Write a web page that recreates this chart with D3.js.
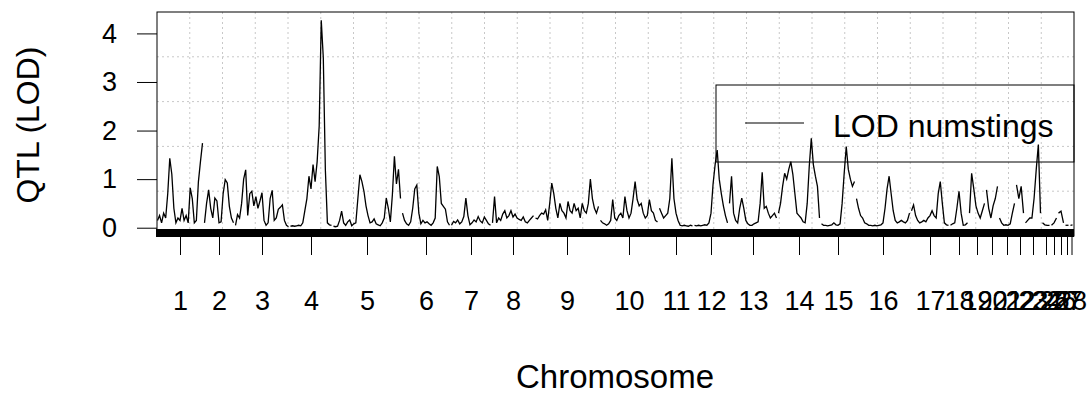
<!DOCTYPE html>
<html><head><meta charset="utf-8">
<script src="https://cdn.jsdelivr.net/npm/d3@7"></script>
<style>
body{margin:0;background:#fff}
svg{display:block}
text{font-family:Arial,"Liberation Sans",sans-serif;fill:#000}
</style>
</head><body>
<svg id="chart" width="1092" height="395"></svg>
<script>
// ---------------- data ----------------
const chromosomes = ["1","2","3","4","5","6","7","8","9","10","11","12","13","14","15","16","17","18","19","20","21","22","23","24","25","26","27","28"];
// chromosome lengths (cM)
const chrLengths = [135,87,159,123,201,141,117,123,189,171,99,99,141,123,99,159,111,51,45,33,45,21,45,21,15,15,9,6];
const chrGap = 6;
// LOD values on an even grid along each chromosome
const lodByChr = [
  [.15,.25,.1,.3,.2,.7,1.43,1.1,.4,.1,.2,.15,.4,.15,.25,.1,.82,.6,.1,.15,.95,1.36,1.74],
  [.1,.5,.78,.4,.2,.61,.55,.1,.12,.7,.99,.92,.44,.2,.1],
  [.05,.27,.2,.5,1.0,1.19,.25,.7,.75,.45,.64,.4,.55,.72,.15,.05,.1,.6,.77,.15,.2,.38,.42,.47,.15,.05,.02],
  [.03,.04,.03,.04,.05,.04,.1,.35,.6,1.06,.8,1.3,.95,1.36,2.1,4.27,3.5,1.2,.1,.06,.05],
  [.03,.02,.03,.15,.34,.1,.05,.12,.16,.04,.08,.1,.6,1.09,.95,.75,.45,.25,.1,.12,.18,.08,.06,.04,.1,.2,.61,.4,.12,.68,1.47,.9,1.2,.6],
  [.3,.15,.08,.05,.12,.4,.8,.88,.3,.08,.15,.1,.12,.08,.05,.1,.2,1.26,1.05,.5,.44,.38,.12,.05],
  [.05,.13,.1,.16,.08,.12,.23,.61,.25,.06,.1,.16,.12,.23,.14,.1,.22,.15,.08,.05],
  [.1,.64,.1,.2,.15,.28,.35,.2,.25,.35,.22,.28,.2,.17,.15,.22,.12,.1,.15,.2,.25],
  [.2,.18,.25,.3,.28,.37,.15,.5,.92,.7,.4,.2,.5,.35,.3,.2,.54,.35,.3,.5,.35,.4,.2,.5,.35,.3,.5,1.0,.6,.4,.3,.44],
  [.15,.1,.08,.05,.08,.15,.58,.2,.15,.25,.3,.2,.64,.35,.2,.3,.6,.95,.58,.45,.5,.3,.2,.25,.58,.35,.3,.15,.12],
  [.4,.3,.2,.25,.3,.6,1.43,.6,.3,.15,.05,.04,.05,.04,.03,.05,.04],
  [.05,.04,.05,.04,.05,.06,.05,.1,.3,.9,1.3,1.6,1.0,.7,.45,.25,.1],
  [.5,1.06,.3,.15,.1,.4,.61,.4,.15,.08,.05,.05,.08,.1,.12,.5,1.14,.4,.44,.3,.2,.25,.3,.2],
  [.3,.5,.85,1.12,1.0,1.2,1.36,1.1,.7,.3,.25,.2,.12,.1,.5,1.26,1.84,1.3,1.06,.85,.2],
  [.08,.05,.05,.04,.05,.06,.1,.06,.05,.08,.5,1.12,1.67,1.2,1.0,.85,.95],
  [.6,.4,.25,.2,.1,.08,.05,.05,.04,.05,.04,.05,.06,.1,.4,.8,1.06,.7,.35,.15,.1,.12,.15,.12,.1,.15,.3],
  [.35,.47,.25,.15,.1,.12,.15,.12,.2,.25,.35,.25,.2,.7,.95,.5,.1,.06,.05],
  [.05,.08,.1,.4,.75,.3,.05,.06,.1],
  [.3,1.12,.8,.45,.3,.2,.35,.5],
  [.78,.4,.2,.45,.6,.85],
  [.2,.1,.05,.06,.05,.08,.3,.5],
  [.88,.6,.85,.3],
  [.1,.15,.2,.2,.6,1.19,1.71,.3],
  [.1,.06,.05,.05],
  [.05,.1,.2],
  [.3,.34,.1],
  [.05,.05],
  [.05,.06]
];
const yTicks = [0,1,2,3,4];
const legendLabels = ["LOD numstings"];
const xTitle = "Chromosome";
const yTitle = "QTL (LOD)";

// ---------------- layout ----------------
const svg = d3.select("#chart");
const plot = {left:157, right:1074, top:12, bottom:236};
const FONT = "Arial,'Liberation Sans',sans-serif";

const starts = [];
let acc = 0;
chrLengths.forEach((L,i)=>{ starts.push(acc); acc += L + (i < chrLengths.length-1 ? chrGap : 0); });
const total = acc;

const x = d3.scaleLinear().domain([0,total]).range([plot.left+0.5, plot.right-1.5]);
const maxLod = d3.max(lodByChr.flat());
const pad = 0.04*maxLod;
const y = d3.scaleLinear().domain([-pad, maxLod + pad]).range([plot.bottom, plot.top]);

// grid
const grid = svg.append("g");
const nx = 28, ny = 5;
d3.range(1,nx).forEach(k=>{
  const gx = plot.left + k*(plot.right-plot.left)/nx;
  grid.append("line").attr("x1",gx).attr("x2",gx).attr("y1",plot.top).attr("y2",plot.bottom)
    .attr("stroke","#c8c8c8").attr("stroke-dasharray","2,3").attr("stroke-width",1);
});
d3.range(1,ny).forEach(k=>{
  const gy = plot.top + k*(plot.bottom-plot.top)/ny;
  grid.append("line").attr("x1",plot.left).attr("x2",plot.right).attr("y1",gy).attr("y2",gy)
    .attr("stroke","#c8c8c8").attr("stroke-dasharray","2,3").attr("stroke-width",1);
});

// curves + marker rug
const line = d3.line().x(d=>x(d[0])).y(d=>y(d[1]));
const curves = svg.append("g");
const rug = svg.append("g");
lodByChr.forEach((vals,i)=>{
  const n = vals.length;
  const pts = vals.map((v,j)=>[starts[i] + (n>1 ? j*chrLengths[i]/(n-1) : 0), v]);
  curves.append("path").attr("d",line(pts)).attr("fill","none").attr("stroke","#000")
    .attr("stroke-width",1.3).attr("stroke-linejoin","miter");
  pts.forEach(p=>{
    rug.append("line").attr("x1",x(p[0])).attr("x2",x(p[0])).attr("y1",plot.bottom-7).attr("y2",plot.bottom+1)
      .attr("stroke","#000").attr("stroke-width",3);
  });
});

// frame
svg.append("rect").attr("x",plot.left).attr("y",plot.top).attr("width",plot.right-plot.left).attr("height",plot.bottom-plot.top)
  .attr("fill","none").attr("stroke","#000").attr("stroke-width",1);

// y axis
const yAxis = d3.axisLeft(y).tickValues(yTicks).tickSize(20).tickPadding(20).tickFormat(d3.format("d"));
const ya = svg.append("g").attr("transform",`translate(${plot.left},0)`).call(yAxis);
ya.select(".domain").remove();
ya.selectAll("line").attr("stroke","#000");
ya.selectAll("text").attr("font-size",27).attr("fill","#000").style("font-family",FONT);

// x axis (chromosome midpoints)
const mids = chrLengths.map((L,i)=>starts[i]+L/2);
const xAxis = d3.axisBottom(x).tickValues(mids).tickSize(19).tickPadding(0).tickFormat((d,i)=>chromosomes[i]);
const xa = svg.append("g").attr("transform",`translate(0,${plot.bottom})`).call(xAxis);
xa.select(".domain").remove();
xa.selectAll("line").attr("stroke","#000");
xa.selectAll("text").attr("font-size",27).attr("fill","#000").attr("y",null).attr("dy",null)
  .attr("transform","translate(0,74)").style("font-family",FONT);

// titles
svg.append("text").attr("x",615).attr("y",388).attr("text-anchor","middle").attr("font-size",33).text(xTitle);
svg.append("text").attr("transform","translate(39,125) rotate(-90)").attr("text-anchor","middle").attr("font-size",32).text(yTitle);

// legend
const lg = svg.append("g");
lg.append("rect").attr("x",716).attr("y",85).attr("width",plot.right-716).attr("height",77)
  .attr("fill","none").attr("stroke","#000").attr("stroke-width",1);
lg.append("line").attr("x1",745).attr("x2",804).attr("y1",123).attr("y2",123).attr("stroke","#000").attr("stroke-width",1.2);
lg.append("text").attr("x",833).attr("y",137).attr("font-size",32).attr("fill","#111").text(legendLabels[0]);
</script>
</body></html>
